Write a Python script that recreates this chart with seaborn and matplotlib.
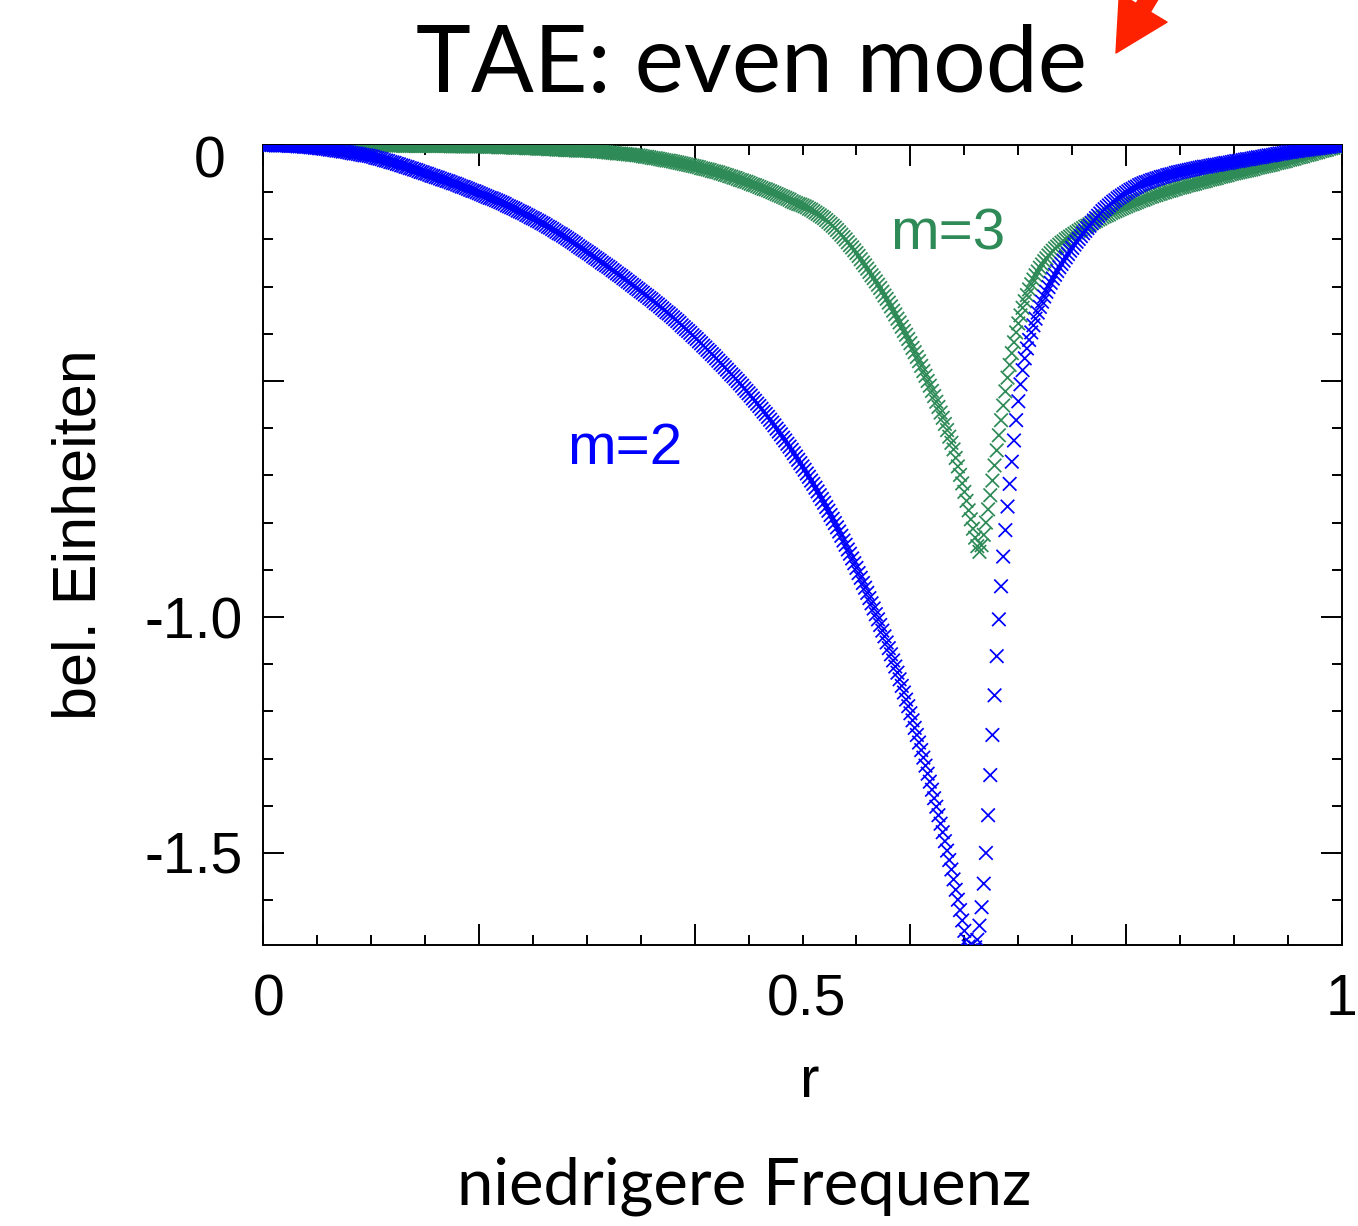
import numpy as np
import pandas as pd
import matplotlib
matplotlib.use("Agg")
import matplotlib.pyplot as plt
import matplotlib.transforms as mtransforms
from matplotlib.ticker import MultipleLocator, FixedLocator
import seaborn as sns

# radial grid, step 0.002 from 0 to 1
r = np.round(np.arange(501) * 0.002, 3)

# m=2 harmonic (blue)
m2 = [
    0.000, 0.000, 0.000, 0.000, 0.000, 0.000, -0.001, -0.001, -0.001, -0.001,
    -0.001, -0.001, -0.002, -0.002, -0.002, -0.002, -0.003, -0.003, -0.003, -0.004,
    -0.004, -0.004, -0.005, -0.005, -0.006, -0.006, -0.007, -0.007, -0.008, -0.008,
    -0.009, -0.010, -0.010, -0.011, -0.012, -0.012, -0.013, -0.014, -0.014, -0.015,
    -0.016, -0.017, -0.018, -0.018, -0.019, -0.020, -0.021, -0.022, -0.022, -0.023,
    -0.024, -0.025, -0.027, -0.028, -0.029, -0.030, -0.032, -0.033, -0.034, -0.036,
    -0.037, -0.038, -0.040, -0.041, -0.043, -0.044, -0.046, -0.047, -0.049, -0.050,
    -0.052, -0.053, -0.055, -0.057, -0.058, -0.060, -0.061, -0.063, -0.065, -0.066,
    -0.068, -0.069, -0.071, -0.073, -0.074, -0.076, -0.077, -0.079, -0.081, -0.082,
    -0.084, -0.086, -0.088, -0.089, -0.091, -0.093, -0.095, -0.097, -0.098, -0.100,
    -0.102, -0.104, -0.106, -0.108, -0.110, -0.112, -0.113, -0.115, -0.117, -0.119,
    -0.121, -0.123, -0.125, -0.128, -0.130, -0.132, -0.134, -0.136, -0.139, -0.141,
    -0.143, -0.145, -0.148, -0.150, -0.153, -0.155, -0.157, -0.160, -0.162, -0.165,
    -0.167, -0.170, -0.173, -0.175, -0.178, -0.181, -0.184, -0.187, -0.189, -0.192,
    -0.195, -0.198, -0.201, -0.204, -0.207, -0.210, -0.214, -0.217, -0.220, -0.223,
    -0.226, -0.229, -0.232, -0.236, -0.239, -0.242, -0.245, -0.249, -0.252, -0.255,
    -0.258, -0.261, -0.265, -0.268, -0.272, -0.275, -0.278, -0.282, -0.285, -0.289,
    -0.292, -0.296, -0.299, -0.303, -0.306, -0.310, -0.313, -0.317, -0.320, -0.324,
    -0.327, -0.331, -0.335, -0.338, -0.342, -0.346, -0.350, -0.354, -0.357, -0.361,
    -0.365, -0.369, -0.373, -0.377, -0.382, -0.386, -0.390, -0.394, -0.398, -0.403,
    -0.407, -0.411, -0.416, -0.420, -0.425, -0.429, -0.434, -0.438, -0.443, -0.447,
    -0.452, -0.457, -0.462, -0.466, -0.471, -0.476, -0.481, -0.486, -0.490, -0.495,
    -0.500, -0.505, -0.510, -0.516, -0.521, -0.526, -0.531, -0.537, -0.542, -0.548,
    -0.553, -0.559, -0.565, -0.570, -0.576, -0.582, -0.588, -0.594, -0.601, -0.607,
    -0.613, -0.620, -0.626, -0.633, -0.639, -0.646, -0.653, -0.660, -0.667, -0.674,
    -0.681, -0.688, -0.696, -0.703, -0.711, -0.718, -0.726, -0.734, -0.742, -0.750,
    -0.758, -0.767, -0.775, -0.784, -0.792, -0.801, -0.810, -0.819, -0.828, -0.838,
    -0.847, -0.857, -0.866, -0.876, -0.886, -0.896, -0.907, -0.917, -0.928, -0.938,
    -0.949, -0.960, -0.971, -0.982, -0.994, -1.005, -1.017, -1.029, -1.041, -1.054,
    -1.066, -1.079, -1.092, -1.105, -1.118, -1.132, -1.146, -1.160, -1.175, -1.189,
    -1.204, -1.219, -1.235, -1.250, -1.266, -1.282, -1.298, -1.315, -1.332, -1.349,
    -1.366, -1.384, -1.402, -1.420, -1.438, -1.456, -1.475, -1.495, -1.515, -1.535,
    -1.556, -1.578, -1.599, -1.621, -1.643, -1.665, -1.684, -1.698, -1.706, -1.708,
    -1.700, -1.684, -1.654, -1.615, -1.565, -1.500, -1.420, -1.335, -1.250, -1.166,
    -1.083, -1.005, -0.935, -0.872, -0.816, -0.766, -0.718, -0.671, -0.626, -0.583,
    -0.543, -0.507, -0.477, -0.452, -0.431, -0.413, -0.397, -0.382, -0.368, -0.355,
    -0.343, -0.332, -0.321, -0.311, -0.301, -0.292, -0.283, -0.275, -0.267, -0.259,
    -0.252, -0.245, -0.238, -0.231, -0.224, -0.218, -0.211, -0.205, -0.199, -0.193,
    -0.187, -0.182, -0.176, -0.171, -0.165, -0.160, -0.155, -0.150, -0.145, -0.140,
    -0.136, -0.132, -0.128, -0.124, -0.120, -0.117, -0.113, -0.110, -0.107, -0.104,
    -0.101, -0.098, -0.095, -0.093, -0.090, -0.088, -0.085, -0.083, -0.081, -0.079,
    -0.078, -0.076, -0.074, -0.073, -0.071, -0.070, -0.068, -0.067, -0.066, -0.064,
    -0.063, -0.062, -0.061, -0.059, -0.058, -0.057, -0.056, -0.055, -0.054, -0.053,
    -0.052, -0.051, -0.050, -0.049, -0.048, -0.047, -0.046, -0.046, -0.045, -0.044,
    -0.043, -0.042, -0.042, -0.041, -0.040, -0.039, -0.038, -0.038, -0.037, -0.036,
    -0.035, -0.034, -0.034, -0.033, -0.032, -0.031, -0.030, -0.030, -0.029, -0.028,
    -0.027, -0.026, -0.026, -0.025, -0.024, -0.023, -0.022, -0.022, -0.021, -0.020,
    -0.019, -0.018, -0.018, -0.017, -0.016, -0.015, -0.015, -0.014, -0.013, -0.013,
    -0.012, -0.011, -0.011, -0.010, -0.010, -0.009, -0.008, -0.008, -0.007, -0.007,
    -0.006, -0.005, -0.005, -0.004, -0.004, -0.003, -0.002, -0.002, -0.001, -0.001,
    0.000,
]

# m=3 harmonic (green)
m3 = [
    0.000, 0.000, 0.000, 0.000, 0.000, 0.000, 0.000, 0.000, 0.000, 0.000,
    0.000, 0.000, 0.000, 0.000, 0.000, 0.000, 0.000, 0.000, 0.000, 0.000,
    0.000, 0.000, 0.000, 0.000, 0.000, 0.000, 0.000, 0.000, 0.000, 0.000,
    0.000, 0.000, 0.000, 0.000, 0.000, 0.000, 0.000, 0.000, 0.000, 0.000,
    0.000, 0.000, 0.000, 0.000, 0.000, -0.001, -0.001, -0.001, -0.001, -0.001,
    -0.001, -0.001, -0.001, -0.001, -0.001, -0.001, -0.001, -0.001, -0.001, -0.001,
    -0.001, -0.001, -0.001, -0.001, -0.001, -0.002, -0.002, -0.002, -0.002, -0.002,
    -0.002, -0.002, -0.002, -0.002, -0.002, -0.002, -0.002, -0.002, -0.002, -0.002,
    -0.002, -0.002, -0.002, -0.002, -0.002, -0.002, -0.002, -0.003, -0.003, -0.003,
    -0.003, -0.003, -0.003, -0.003, -0.003, -0.003, -0.003, -0.003, -0.003, -0.003,
    -0.003, -0.003, -0.003, -0.003, -0.004, -0.004, -0.004, -0.004, -0.004, -0.005,
    -0.005, -0.005, -0.005, -0.005, -0.005, -0.005, -0.006, -0.006, -0.006, -0.006,
    -0.006, -0.006, -0.007, -0.007, -0.007, -0.007, -0.007, -0.008, -0.008, -0.008,
    -0.008, -0.008, -0.009, -0.009, -0.009, -0.009, -0.010, -0.010, -0.010, -0.010,
    -0.011, -0.011, -0.011, -0.011, -0.011, -0.012, -0.012, -0.012, -0.012, -0.012,
    -0.012, -0.012, -0.013, -0.013, -0.013, -0.014, -0.014, -0.014, -0.015, -0.015,
    -0.016, -0.016, -0.017, -0.017, -0.018, -0.018, -0.018, -0.019, -0.019, -0.020,
    -0.020, -0.021, -0.021, -0.022, -0.022, -0.023, -0.024, -0.025, -0.025, -0.026,
    -0.027, -0.028, -0.028, -0.029, -0.030, -0.031, -0.032, -0.033, -0.033, -0.034,
    -0.035, -0.036, -0.037, -0.038, -0.039, -0.040, -0.041, -0.042, -0.043, -0.044,
    -0.045, -0.046, -0.047, -0.049, -0.050, -0.051, -0.052, -0.053, -0.055, -0.056,
    -0.057, -0.058, -0.060, -0.061, -0.063, -0.064, -0.066, -0.067, -0.069, -0.070,
    -0.072, -0.074, -0.075, -0.077, -0.078, -0.080, -0.082, -0.084, -0.085, -0.087,
    -0.089, -0.091, -0.093, -0.094, -0.096, -0.098, -0.100, -0.102, -0.104, -0.106,
    -0.108, -0.110, -0.112, -0.114, -0.116, -0.119, -0.121, -0.123, -0.125, -0.126,
    -0.128, -0.130, -0.132, -0.135, -0.137, -0.140, -0.143, -0.146, -0.149, -0.152,
    -0.155, -0.159, -0.163, -0.167, -0.171, -0.175, -0.180, -0.185, -0.190, -0.195,
    -0.200, -0.206, -0.212, -0.217, -0.223, -0.229, -0.235, -0.242, -0.249, -0.255,
    -0.262, -0.269, -0.276, -0.282, -0.289, -0.296, -0.303, -0.311, -0.319, -0.326,
    -0.334, -0.342, -0.351, -0.359, -0.368, -0.376, -0.385, -0.394, -0.402, -0.411,
    -0.420, -0.430, -0.439, -0.449, -0.458, -0.468, -0.479, -0.489, -0.500, -0.510,
    -0.521, -0.532, -0.544, -0.555, -0.567, -0.578, -0.591, -0.604, -0.618, -0.631,
    -0.645, -0.663, -0.681, -0.699, -0.717, -0.735, -0.754, -0.774, -0.793, -0.813,
    -0.832, -0.850, -0.862, -0.848, -0.826, -0.800, -0.772, -0.742, -0.711, -0.679,
    -0.647, -0.615, -0.583, -0.552, -0.522, -0.493, -0.466, -0.441, -0.418, -0.397,
    -0.378, -0.361, -0.345, -0.331, -0.318, -0.306, -0.295, -0.285, -0.276, -0.268,
    -0.260, -0.253, -0.246, -0.240, -0.234, -0.229, -0.224, -0.219, -0.215, -0.211,
    -0.207, -0.204, -0.200, -0.197, -0.194, -0.191, -0.188, -0.185, -0.182, -0.179,
    -0.176, -0.173, -0.171, -0.168, -0.166, -0.163, -0.161, -0.158, -0.156, -0.153,
    -0.151, -0.149, -0.147, -0.144, -0.142, -0.140, -0.138, -0.136, -0.134, -0.132,
    -0.130, -0.128, -0.126, -0.125, -0.123, -0.121, -0.119, -0.117, -0.116, -0.114,
    -0.112, -0.110, -0.109, -0.107, -0.106, -0.104, -0.103, -0.101, -0.100, -0.098,
    -0.097, -0.096, -0.094, -0.093, -0.091, -0.090, -0.089, -0.088, -0.086, -0.085,
    -0.084, -0.083, -0.082, -0.080, -0.079, -0.078, -0.077, -0.076, -0.074, -0.073,
    -0.072, -0.071, -0.070, -0.068, -0.067, -0.066, -0.065, -0.064, -0.062, -0.061,
    -0.060, -0.059, -0.058, -0.057, -0.056, -0.055, -0.054, -0.053, -0.052, -0.051,
    -0.049, -0.048, -0.047, -0.046, -0.045, -0.044, -0.043, -0.042, -0.041, -0.039,
    -0.038, -0.037, -0.036, -0.035, -0.034, -0.032, -0.031, -0.030, -0.029, -0.027,
    -0.026, -0.025, -0.024, -0.022, -0.021, -0.020, -0.019, -0.017, -0.016, -0.015,
    -0.013, -0.012, -0.011, -0.010, -0.008, -0.007, -0.006, -0.004, -0.003, -0.001,
    0.000,
]

modes = ["m=3", "m=2"]
mode_colors = {"m=2": "#0000ff", "m=3": "#2e8b57"}

x_tick_values = [0.0, 0.5, 1.0]
x_tick_labels = ["0", "0.5", "1"]
y_tick_values = [0.0, -1.0, -1.5]
y_tick_labels = ["0", "-1.0", "-1.5"]

title_text = "TAE: even mode"
footer_text = "niedrigere Frequenz"
x_label = "r"
y_label = "bel. Einheiten"

# long-form table; m=3 rows first so the blue crosses sit on top
df = pd.concat([
    pd.DataFrame({"r": r, "amp": m3, "mode": "m=3"}),
    pd.DataFrame({"r": r, "amp": m2, "mode": "m=2"}),
], ignore_index=True)

sns.set_style("white")
plt.rcParams["font.family"] = ["Liberation Sans", "DejaVu Sans"]
plt.rcParams["text.color"] = "black"
plt.rcParams["axes.labelcolor"] = "black"

W, H = 1358, 1226
fig = plt.figure(figsize=(W / 100, H / 100), dpi=100)
ax = fig.add_axes([263 / W, 1 - 945 / H, (1342 - 263) / W, (945 - 145) / H])

sns.scatterplot(data=df, x="r", y="amp", hue="mode", hue_order=modes,
                palette=mode_colors, marker="x", s=95, linewidth=1.25,
                legend=False, ax=ax, zorder=3)

ax.set_xlim(0, 1)
ax.set_ylim(-1.695, 0)
ax.set_xlabel("")
ax.set_ylabel("")

for sp in ax.spines.values():
    sp.set_visible(True)
    sp.set_color("black")
    sp.set_linewidth(1.4)

ax.xaxis.set_major_locator(MultipleLocator(0.2))
ax.xaxis.set_minor_locator(MultipleLocator(0.05))
ax.yaxis.set_major_locator(FixedLocator([0.0, -0.5, -1.0, -1.5]))
ax.yaxis.set_minor_locator(MultipleLocator(0.1))
ax.tick_params(which="both", direction="in", top=True, right=True,
               bottom=True, left=True, labelbottom=False, labelleft=False,
               color="black", width=1.4)
ax.tick_params(which="major", length=15)
ax.tick_params(which="minor", length=7.5)

# tick labels
xt = mtransforms.blended_transform_factory(ax.transData, ax.transAxes)
x_offsets = {"0": (6, "center"), "0.5": (4, "center"), "1": (15, "right")}
for v, lab in zip(x_tick_values, x_tick_labels):
    dx, ha = x_offsets[lab]
    ax.annotate(lab, xy=(v, 0), xycoords=xt, xytext=(dx, -70),
                textcoords="offset pixels", ha=ha, va="baseline",
                fontsize=41, color="black", annotation_clip=False)

yt = mtransforms.blended_transform_factory(ax.transAxes, ax.transData)
y_offsets = {"0": (-37, -33), "-1.0": (-20, -22), "-1.5": (-20, -20)}
for v, lab in zip(y_tick_values, y_tick_labels):
    dx, dy = y_offsets[lab]
    ax.annotate(lab, xy=(0, v), xycoords=yt, xytext=(dx, dy),
                textcoords="offset pixels", ha="right", va="baseline",
                fontsize=41, color="black", annotation_clip=False)

# axis titles
fig.text(810 / W, 1 - 1097 / H, x_label, ha="center", va="baseline",
         fontsize=42, color="black")
fig.text(80 / W, 1 - 535 / H, y_label, ha="center", va="center",
         rotation=90, fontsize=44, color="black")

# mode labels
fig.text(948 / W, 1 - 250 / H, "m=3", ha="center", va="baseline",
         fontsize=42, color=mode_colors["m=3"])
fig.text(625 / W, 1 - 464 / H, "m=2", ha="center", va="baseline",
         fontsize=42, color=mode_colors["m=2"])

# heading and footer
fig.text(752 / W, 1 - 92 / H, title_text, ha="center", va="baseline",
         fontsize=67, color="black", family=["Lato", "DejaVu Sans"])
fig.text(744 / W, 1 - 1205 / H, footer_text, ha="center", va="baseline",
         fontsize=47, color="black", family=["Lato", "DejaVu Sans"])

# red pointer arrow at the top right
ax.annotate("", xy=(1116, H - 53), xycoords="figure pixels",
            xytext=(1178, H + 50), textcoords="figure pixels",
            arrowprops=dict(arrowstyle="simple,head_length=38,head_width=40,tail_width=12",
                            color="#ff2200", mutation_scale=1,
                            shrinkA=0, shrinkB=0),
            annotation_clip=False)

fig.savefig("out.png", dpi=100)
